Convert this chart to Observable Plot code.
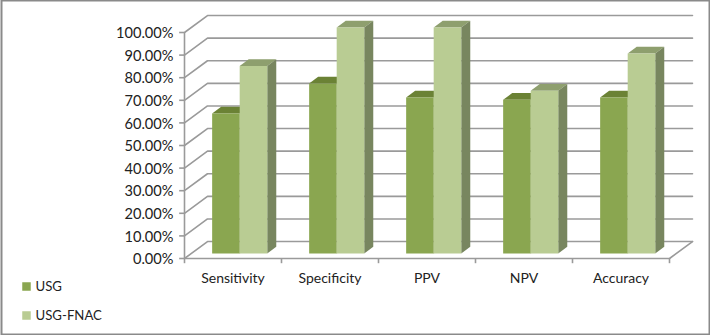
<!DOCTYPE html>
<html><head><meta charset="utf-8">
<style>html,body{margin:0;padding:0;background:#fff}</style>
<script src="https://cdn.jsdelivr.net/npm/d3@7"></script>
<script src="https://cdn.jsdelivr.net/npm/@observablehq/plot@0.6"></script>
</head><body><div id="c"></div>
<script>
const categories = ["Sensitivity","Specificity","PPV","NPV","Accuracy"];
const usg = [62,75.2,69,68,69];
const usgFnac = [83,100,100,72,88.5];
const yTicks = [0,10,20,30,40,50,60,70,80,90,100];
const seriesNames = ["USG","USG-FNAC"];
const colors = {usg:{front:"#8aa650",top:"#6b8235",side:"#6b8235"},fnac:{front:"#b9cc93",top:"#8e9f6e",side:"#78865f"}};
const gridColor = "#9a9a9a", font = "Lato, 'Open Sans', sans-serif", textColor = "#222";

// oblique projection, expressed in data units of the two scales
const wallDx = 0.237, wallDy = 7.5;      // wall depth
const barDx = 0.093, barDy = 3.0;        // bar depth
const barBase = 2.2, barStart = 0.285, barW = 0.284;

const face = (kind, i, x0, v) => {
  const x1 = x0 + barW, y0 = barBase, y1 = barBase + v, id = kind + i;
  if (kind === "front") return [[x0,y0],[x1,y0],[x1,y1],[x0,y1]].map(([x,y]) => ({x,y,id}));
  if (kind === "top") return [[x0,y1],[x1,y1],[x1+barDx,y1+barDy],[x0+barDx,y1+barDy]].map(([x,y]) => ({x,y,id}));
  return [[x1,y0],[x1+barDx,y0+barDy],[x1+barDx,y1+barDy],[x1,y1]].map(([x,y]) => ({x,y,id}));
};
const faces = (kind, vals, off) => vals.flatMap((v,i) => face(kind, i, i + barStart + off, v));
const poly = (kind, vals, off, fill) => Plot.line(faces(kind, vals, off), {x:"x", y:"y", z:"id", fill, stroke:"none", curve:"linear"});

const wall = yTicks.flatMap(v => [
  {x:0,y:v,id:v},{x:wallDx,y:v+wallDy,id:v},{x:5+wallDx,y:v+wallDy,id:v}
]);
const floor = [{x:0,y:0},{x:5,y:0},{x:5+wallDx,y:wallDy}];
const catTicks = d3.range(categories.length + 1);

const chart = Plot.plot({
  width:710, height:335,
  marginLeft:184, marginRight:41, marginTop:32, marginBottom:77,
  x:{domain:[0,5], axis:null},
  y:{domain:[0,100], axis:null},
  style:{fontFamily:font, background:"#fff"},
  marks:[
    Plot.frame({insetLeft:-183, insetTop:-32, insetRight:-40, insetBottom:-76, stroke:"#8a8a8a", strokeWidth:2}),
    Plot.line(wall, {x:"x", y:"y", z:"id", stroke:gridColor, strokeWidth:1.6}),
    Plot.line(floor, {x:"x", y:"y", stroke:gridColor, strokeWidth:1.6}),
    Plot.ruleX([0], {y1:0, y2:100, stroke:gridColor, strokeWidth:1.6}),
    Plot.ruleX(catTicks, {y1:0, y2:-2.3, stroke:gridColor, strokeWidth:1.6}),
    Plot.ruleY(yTicks, {x1:0, x2:-0.05, stroke:gridColor, strokeWidth:1.6}),
    poly("top", usg, 0, colors.usg.top),
    poly("side", usg, 0, colors.usg.side),
    poly("front", usg, 0, colors.usg.front),
    poly("top", usgFnac, barW, colors.fnac.top),
    poly("side", usgFnac, barW, colors.fnac.side),
    poly("front", usgFnac, barW, colors.fnac.front),
    Plot.axisY(yTicks, {anchor:"left", label:null, tickSize:0, tickPadding:11, fill:textColor, fontSize:14.6, dy:1, tickFormat:d => d.toFixed(2) + "%"}),
    Plot.text(categories, {x:(d,i) => i + 0.5, y:0, dy:20.5, text:d => d, fontSize:14, fill:textColor}),
    Plot.dot(seriesNames.slice(0,1), {frameAnchor:"bottom-left", dx:-158, dy:28, symbol:"square", r:4.8, fill:colors.usg.front, stroke:"none"}),
    Plot.dot(seriesNames.slice(1,2), {frameAnchor:"bottom-left", dx:-158, dy:57, symbol:"square", r:4.8, fill:colors.fnac.front, stroke:"none"}),
    Plot.text(seriesNames.slice(0,1), {frameAnchor:"bottom-left", lineAnchor:"middle", dx:-149, dy:28, text:d => d, textAnchor:"start", fontSize:13.2, fill:textColor}),
    Plot.text(seriesNames.slice(1,2), {frameAnchor:"bottom-left", lineAnchor:"middle", dx:-149, dy:57, text:d => d, textAnchor:"start", fontSize:13.2, fill:textColor})
  ]
});
document.getElementById("c").appendChild(chart);
</script></body></html>
